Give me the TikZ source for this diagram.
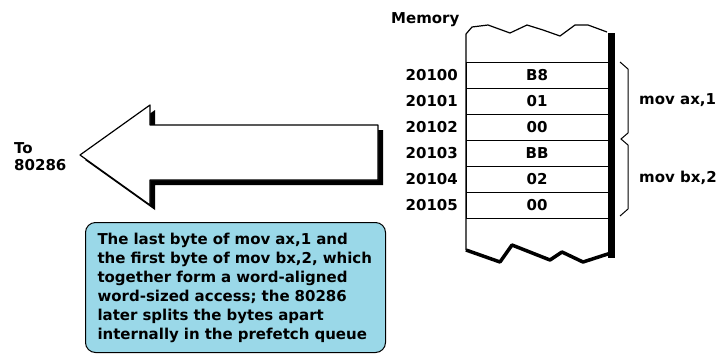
\documentclass[tikz,border=0pt]{standalone}
\usepackage{fontspec}
\setmainfont{DejaVu Sans}
\usepackage{tikz}
\usetikzlibrary{positioning,calc}
\definecolor{inkblack}{HTML}{000000}
\definecolor{noteblue}{HTML}{9AD8E8}
\tikzset{
  lbl/.style={
    font=\fontsize{15}{19}\selectfont\bfseries, inner sep=0pt
  },
  cell/.style={
    rectangle, draw=inkblack, line width=1pt,
    minimum width=142pt, minimum height=26pt,
    inner sep=0pt, outer sep=0pt,
    font=\fontsize{15}{19}\selectfont\bfseries
  },
  addr/.style={lbl, left=8pt of #1},
  bigarrow/.style={draw=inkblack, line width=1.2pt, fill=white, line join=round},
  arrowshadow/.style={fill=inkblack},
  % ── memory column outline ──
  coledge/.style={draw=inkblack, line width=1.2pt, line join=round},
  torn/.style={draw=inkblack, line width=3.5pt, line join=round},
  bracket/.style={draw=inkblack, line width=1pt},
  notebox/.style={
    rectangle, rounded corners=10pt, draw=inkblack, fill=noteblue, line width=1pt,
    minimum width=300pt, minimum height=130pt, text width=276pt,
    inner xsep=12pt, align=left,
    font=\fontsize{15}{19}\selectfont\bfseries
  },
}

\begin{document}
\begin{tikzpicture}[x=1pt, y=-1pt]
\useasboundingbox (0,0) rectangle (719,354);

% memory cells
\node[cell, anchor=north west] (c0) at (466,62) {B8};
\node[cell, below=0pt of c0] (c1) {01};
\node[cell, below=0pt of c1] (c2) {00};
\node[cell, below=0pt of c2] (c3) {BB};
\node[cell, below=0pt of c3] (c4) {02};
\node[cell, below=0pt of c4] (c5) {00};

\node[lbl] (a0) [addr=c0] {20100};
\node[lbl] (a1) [addr=c1] {20101};
\node[lbl] (a2) [addr=c2] {20102};
\node[lbl] (a3) [addr=c3] {20103};
\node[lbl] (a4) [addr=c4] {20104};
\node[lbl] (a5) [addr=c5] {20105};

\node[lbl, anchor=west] (memlbl) at (391,20) {Memory};

% column sides and torn edges
\draw[coledge] (466,250) -- (466,34) -- (472,27) -- (488,25) -- (510,33)
  -- (527,25) -- (543,30) -- (560,36) -- (575,25) -- (588,25) -- (607,32);
\fill[inkblack] (608,33) rectangle (615,258);
\draw[torn] (466,250) -- (500,262) -- (512,245) -- (550,260) -- (562,252)
  -- (583,262) -- (614,252);

% brackets
\draw[bracket] (620,62) -- (628,69) -- (628,133) -- (621,139) -- (628,145)
  -- (628,209) -- (620,216);
\node[lbl, anchor=west] (movax) at (639,100) {mov ax,1};
\node[lbl, anchor=west] (movbx) at (639,178) {mov bx,2};

% big arrow to the cpu
\begin{scope}[shift={(5,5)}]
\fill[arrowshadow] (80,155) -- (150,105) -- (150,125) -- (378,125)
  -- (378,180) -- (150,180) -- (150,205) -- cycle;
\end{scope}
\path[bigarrow] (80,155) -- (150,105) -- (150,125) -- (378,125)
  -- (378,180) -- (150,180) -- (150,205) -- cycle;
\node[lbl, anchor=west, align=left,
  font=\fontsize{15}{17}\selectfont\bfseries] (dest) at (14,157) {To\\80286};

\node[notebox, anchor=north west] (note) at (85,222)
  {The last byte of mov ax,1 and\\
   the first byte of mov bx,2, which\\
   together form a word-aligned\\
   word-sized access; the 80286\\
   later splits the bytes apart\\
   internally in the prefetch queue};

\end{tikzpicture}
\end{document}
